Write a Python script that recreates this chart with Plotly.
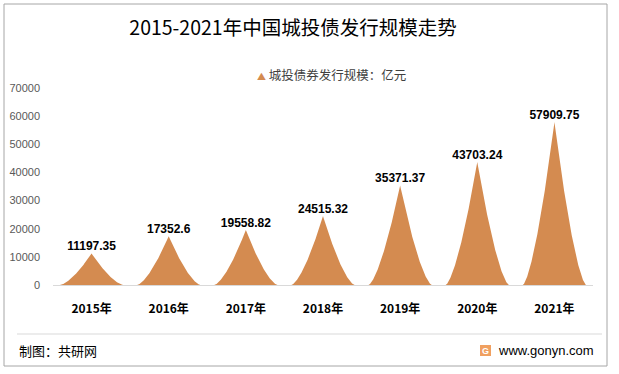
import numpy as np
import plotly.graph_objects as go

# ---- data ----
years = ["2015年", "2016年", "2017年", "2018年", "2019年", "2020年", "2021年"]
values = [11197.35, 17352.6, 19558.82, 24515.32, 35371.37, 43703.24, 57909.75]
value_labels = ["11197.35", "17352.6", "19558.82", "24515.32", "35371.37", "43703.24", "57909.75"]
y_ticks = [0, 10000, 20000, 30000, 40000, 50000, 60000, 70000]
series_name = "城投债券发行规模：亿元"

COLOR = "#D48B50"
W, H = 619, 374
L, R, T, B = 53, 26, 88, 89  # margins -> plot area 53..593 x 88..285
PW, PH = W - L - R, H - T - B


def px(x):
    return (x - L) / PW


def py(y):
    return (H - B - y) / PH


fig = go.Figure()

# peak shapes (concave cone) built from each value
half_w = 0.41
p = 1.5
s = np.linspace(-1, 1, 301)
for i, v in enumerate(values):
    xs = i + half_w * s
    ys = v * (1 - np.abs(s)) ** p
    fig.add_trace(go.Scatter(
        x=list(xs) + [xs[0]], y=list(ys) + [0],
        mode="lines", fill="toself", fillcolor=COLOR,
        line=dict(width=0, color=COLOR), showlegend=False, hoverinfo="skip",
        name=series_name))

# data labels
fig.add_trace(go.Scatter(
    x=list(range(len(values))), y=values, mode="text",
    text=["<b>%s</b>" % t for t in value_labels], textposition="top center",
    textfont=dict(family="Liberation Sans, Arial", size=12, color="#000000"),
    showlegend=False, hoverinfo="skip", cliponaxis=False))

fig.update_layout(
    width=W, height=H,
    margin=dict(l=L, r=R, t=T, b=B, autoexpand=False),
    paper_bgcolor="white", plot_bgcolor="white",
    showlegend=False,
    title=dict(text="2015-2021年中国城投债发行规模走势",
               x=293 / W, xanchor="center", y=1 - 28 / H, yanchor="middle",
               font=dict(family="Noto Sans CJK SC", size=19.5, color="#000000")),
    xaxis=dict(range=[-0.5, len(values) - 0.5], tickmode="array",
               tickvals=list(range(len(values))), ticktext=["<b>%s</b>" % y for y in years],
               showgrid=False, zeroline=False, showline=True, linecolor="#D9D9D9",
               linewidth=1, ticks="", ticklen=0, ticklabelstandoff=13,
               tickfont=dict(family="Noto Sans CJK SC", size=12, color="#000000"),
               fixedrange=True),
    yaxis=dict(range=[0, 70000], tickmode="array", tickvals=y_ticks,
               ticktext=[str(t) for t in y_ticks],
               showgrid=False, zeroline=False, showline=False, ticks="",
               ticklabelstandoff=12,
               tickfont=dict(family="Liberation Sans, Arial", size=11, color="#595959"),
               fixedrange=True),
    shapes=[
        dict(type="rect", xref="paper", yref="paper",
             x0=px(4), x1=px(607), y0=py(366), y1=py(4),
             line=dict(color="#A6A6A6", width=1), layer="below"),
        dict(type="line", xref="paper", yref="paper",
             x0=px(17), x1=px(602), y0=py(334), y1=py(334),
             line=dict(color="#D9D9D9", width=1)),
        dict(type="rect", xref="paper", yref="paper",
             x0=px(480), x1=px(491), y0=py(356), y1=py(345),
             fillcolor="#F0A060", line=dict(width=0)),
    ],
    annotations=[
        dict(text='<span style="color:%s;font-size:9px">▲</span> %s' % (COLOR, series_name),
             xref="paper", yref="paper", x=px(255), y=py(75),
             xanchor="left", yanchor="middle", showarrow=False,
             font=dict(family="Noto Sans CJK SC", size=12.5, color="#404040")),
        dict(text="制图：共研网", xref="paper", yref="paper", x=px(17), y=py(350),
             xanchor="left", yanchor="middle", showarrow=False,
             font=dict(family="Noto Sans CJK SC", size=13, color="#000000")),
        dict(text="www.gonyn.com", xref="paper", yref="paper", x=px(596), y=py(350),
             xanchor="right", yanchor="middle", showarrow=False,
             font=dict(family="Liberation Sans, Arial", size=13, color="#000000")),
        dict(text="<b>G</b>", xref="paper", yref="paper", x=px(485.5), y=py(350.5),
             xanchor="center", yanchor="middle", showarrow=False,
             font=dict(family="Liberation Sans, Arial", size=9, color="#FFFFFF")),
    ],
)

fig.write_html("out.html", config={"displayModeBar": False},
               post_script="document.body.style.margin='0px';")
